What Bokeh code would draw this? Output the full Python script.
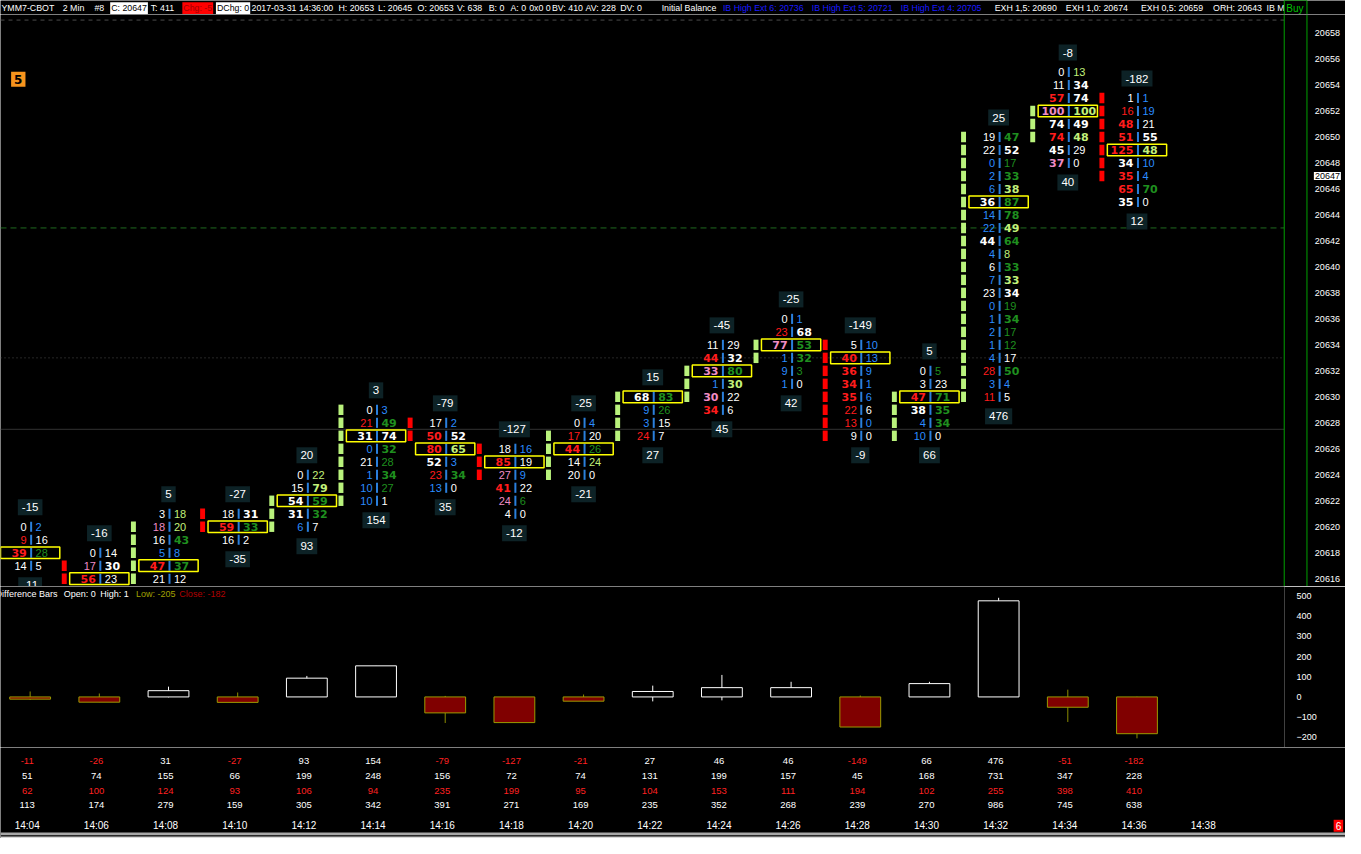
import numpy as np
from bokeh.plotting import figure
from bokeh.models import ColumnDataSource, Range1d, FixedTicker, Span
from bokeh.layouts import column
from bokeh.embed import file_html
from bokeh.resources import INLINE
from bokeh.core.properties import value

# ---------------- data ----------------
times = ["14:04", "14:06", "14:08", "14:10", "14:12", "14:14", "14:16", "14:18", "14:20",
         "14:22", "14:24", "14:26", "14:28", "14:30", "14:32", "14:34", "14:36", "14:38"]

# highest price row of each footprint bar
fp_top = [20620, 20618, 20621, 20621, 20624, 20629, 20628, 20626, 20628,
          20630, 20634, 20636, 20634, 20632, 20650, 20655, 20653]

# bid volume per row, top row first
fp_bid = [
    [0, 9, 39, 14],
    [0, 17, 56, 27],
    [3, 18, 16, 5, 47, 21, 14],
    [18, 59, 16],
    [0, 15, 54, 31, 6],
    [0, 21, 31, 0, 21, 1, 10, 10],
    [17, 50, 80, 52, 23, 13],
    [18, 85, 27, 41, 24, 4],
    [0, 17, 44, 14, 20],
    [68, 9, 3, 24],
    [11, 44, 33, 1, 30, 34],
    [0, 23, 77, 1, 9, 1],
    [5, 40, 36, 34, 35, 22, 13, 9],
    [0, 3, 47, 38, 4, 10],
    [19, 22, 0, 2, 6, 36, 14, 22, 44, 4, 6, 7, 23, 0, 1, 2, 1, 4, 28, 3, 11],
    [0, 11, 57, 100, 74, 74, 45, 37],
    [1, 16, 48, 51, 125, 34, 35, 65, 35],
]
# ask volume per row, top row first
fp_ask = [
    [2, 16, 28, 5],
    [14, 30, 23, 7],
    [18, 20, 43, 8, 37, 12, 17],
    [31, 33, 2],
    [22, 79, 59, 32, 7],
    [3, 49, 74, 32, 28, 34, 27, 1],
    [2, 52, 65, 3, 34, 0],
    [16, 19, 9, 22, 6, 0],
    [4, 20, 26, 24, 0],
    [83, 26, 15, 7],
    [29, 32, 80, 30, 22, 6],
    [1, 68, 53, 32, 3, 0],
    [10, 13, 9, 1, 6, 6, 0, 0],
    [5, 23, 71, 35, 34, 0],
    [47, 52, 17, 33, 38, 87, 78, 49, 64, 8, 33, 33, 34, 19, 34, 17, 12, 17, 50, 4, 5],
    [13, 34, 74, 100, 49, 48, 29, 0],
    [1, 19, 21, 55, 48, 10, 4, 70, 0],
]

bar_open = [20619, 20617, 20616, 20621, 20620, 20622, 20628, 20626, 20624,
            20627, 20630, 20633, 20634, 20627, 20630, 20650, 20653]
bar_close = [20617, 20616, 20620, 20620, 20622, 20629, 20627, 20624, 20627,
             20630, 20632, 20634, 20627, 20630, 20650, 20652, 20647]

label_above = [-15, -16, 5, -27, 20, 3, -79, -127, -25, 15, -45, -25, -149, 5, 25, -8, -182]
label_below = [-11, -26, 31, -35, 93, 154, 35, -12, -21, 27, 45, 42, -9, 66, 476, 40, 12]

diff_high = [27, 17, 51, 22, 104, 154, 5, 0, 12, 56, 109, 75, 7, 75, 491, 36, 1]
diff_low = [-15, -26, -2, -27, 0, 0, -129, -127, -21, -22, -17, 0, -149, 0, 0, -124, -205]

price_ticks = list(range(20616, 20660, 2))
last_price = 20647
delta_ticks = [-200, -100, 0, 100, 200, 300, 400, 500]
level_exh05 = 20659
level_orh = 20643
level_dotted = 20633
level_solid = 20627.5

ask_vol = [sum(a) for a in fp_ask]
bid_vol = [sum(b) for b in fp_bid]
delta = [a - b for a, b in zip(ask_vol, bid_vol)]
total_vol = [a + b for a, b in zip(ask_vol, bid_vol)]

# ---------------- layout constants ----------------
W = 1345
SX = W / 1361.0
PXB = 70 * SX
X0 = -30 / 70.0
PRICE_LO, PRICE_HI = 20615.40, 20659.43


def rx(ref_px):
    return X0 + ref_px / 70.0


def ref_price(ref_y):
    return 20616 + (589 - ref_y) / 13.24


WHITE = "#ffffff"
RED = "#ff1c1c"
PINK = "#f08cc4"
DKGREEN = "#1f8f1f"
LTGREEN = "#c2f07a"
BLUE = "#2b8cff"
BODY_GREEN = "#b9f27c"
BODY_RED = "#ff0000"
LABEL_BG = "#0d2226"
REG_FONT = value("Liberation Sans")
BOLD_FONT = value("DejaVu Sans")


def fpcolor(v, diag, side):
    if diag is None or diag == 0:
        return WHITE
    r = v / diag
    if r >= 1.5:
        return RED if side == "bid" else DKGREEN
    if r >= 1.0:
        return PINK if side == "bid" else LTGREEN
    if r < 0.4:
        return BLUE
    return WHITE


def base_fig(**kw):
    f = figure(toolbar_location=None, output_backend="svg",
               background_fill_color="black", border_fill_color="black",
               outline_line_color=None, min_border_left=0, min_border_top=0,
               min_border_bottom=0, **kw)
    f.grid.visible = False
    return f


# ---------------- header ----------------
hdr = base_fig(frame_width=W, frame_height=14, min_border_right=0,
               x_range=Range1d(0, 1361), y_range=Range1d(0, 1),
               x_axis_location=None, y_axis_location=None)
hdr_items = [
    (1, "YMM7-CBOT", WHITE, None), (63, "2 Min", WHITE, None), (95, "#8", WHITE, None),
    (111, "C: 20647", "black", "white"), (152, "T: 411", WHITE, None),
    (184, "Chg: -5", "#a00000", "#ff0000"), (218, "DChg: 0", "black", "white"),
    (254, "2017-03-31 14:36:00", WHITE, None), (342, "H: 20653", WHITE, None),
    (382, "L: 20645", WHITE, None), (422, "O: 20653", WHITE, None),
    (462, "V: 638", WHITE, None), (494, "B: 0", WHITE, None), (516, "A: 0", WHITE, None),
    (535, "0x0 0", WHITE, None), (558, "BV: 410", WHITE, None), (592, "AV: 228", WHITE, None),
    (627, "DV: 0", WHITE, None), (669, "Initial Balance", WHITE, None),
    (731, "IB High Ext 6: 20736", "#1a1aff", None), (821, "IB High Ext 5: 20721", "#1a1aff", None),
    (911, "IB High Ext 4: 20705", "#1a1aff", None), (1006, "EXH 1,5: 20690", WHITE, None),
    (1078, "EXH 1,0: 20674", WHITE, None), (1154, "EXH 0,5: 20659", WHITE, None),
    (1227, "ORH: 20643", WHITE, None), (1281, "IB M", WHITE, None),
]
for xx, tt, cc, bg in hdr_items:
    kw = {}
    if bg:
        kw = dict(background_fill_color=bg, padding=1)
    hdr.text(x=[xx], y=[0.45], text=[tt], text_color=cc, text_font=REG_FONT,
             text_font_size="8.8px", text_baseline="middle", text_align="left", **kw)
hdr.quad(left=[1299], right=[1322], top=[1], bottom=[0], fill_color="black", line_color="#00b000")
hdr.text(x=[1301], y=[0.4], text=["Buy"], text_color="#00c000", text_font=REG_FONT,
         text_font_size="10px", text_baseline="middle")

# ---------------- main footprint panel ----------------
main = base_fig(frame_width=W, frame_height=572, min_border_right=0,
                x_range=Range1d(X0, X0 + W / PXB),
                y_range=Range1d(PRICE_LO, PRICE_HI),
                x_axis_location=None, y_axis_location=None)

# price scale labels, placed on the price scale
main.text(x=[rx(1330)] * len(price_ticks), y=price_ticks, text=[str(t) for t in price_ticks],
          text_color=WHITE, text_font=REG_FONT, text_font_size="9px", text_baseline="middle",
          text_align="left")
main.text(x=[rx(1329)], y=[last_price], text=[str(last_price)], text_color="black",
          text_font=REG_FONT, text_font_size="9px", text_baseline="middle", text_align="left",
          background_fill_color="white", padding=1)

# reference levels
x_line_end = rx(1299)
for lvl, col, dash in [(level_exh05, "#4a4a4a", "4 4"), (level_orh, "#1f6a1f", "6 4"),
                       (level_dotted, "#4a4a4a", "1 3"), (level_solid, "#333333", "solid")]:
    main.segment(x0=[X0], y0=[lvl], x1=[x_line_end], y1=[lvl], line_color=col,
                 line_width=1, line_dash=dash)

main.add_layout(Span(location=rx(1299), dimension="height", line_color="#00a000", line_width=1))
main.add_layout(Span(location=rx(1322), dimension="height", line_color="#00a000", line_width=1))

n = len(fp_top)
BID_OFF = 3.5 / 70
ASK_OFF = 5.5 / 70

body = dict(x=[], y=[], color=[])
sep = dict(x=[], y=[])
poc = dict(x=[], y=[])
bid_reg = dict(x=[], y=[], text=[], color=[])
bid_bold = dict(x=[], y=[], text=[], color=[])
ask_reg = dict(x=[], y=[], text=[], color=[])
ask_bold = dict(x=[], y=[], text=[], color=[])
lab = dict(x=[], y=[], text=[])

for i in range(n):
    o, c = bar_open[i], bar_close[i]
    col = BODY_GREEN if c >= o else BODY_RED
    for p in range(min(o, c), max(o, c) + 1):
        body["x"].append(i - 35.5 / 70)
        body["y"].append(p)
        body["color"].append(col)
    bids, asks = fp_bid[i], fp_ask[i]
    tot = [b + a for b, a in zip(bids, asks)]
    kpoc = int(np.argmax(tot))
    poc["x"].append(i)
    poc["y"].append(fp_top[i] - kpoc)
    for k in range(len(bids)):
        p = fp_top[i] - k
        if p < PRICE_LO + 0.3:      # row lies below the visible price scale
            continue
        b, a = bids[k], asks[k]
        db = asks[k - 1] if k > 0 else None
        da = bids[k + 1] if k + 1 < len(bids) else None
        t = bid_bold if b >= 30 else bid_reg
        t["x"].append(i - BID_OFF); t["y"].append(p); t["text"].append(str(b))
        t["color"].append(fpcolor(b, db, "bid"))
        t = ask_bold if a >= 30 else ask_reg
        t["x"].append(i + ASK_OFF); t["y"].append(p); t["text"].append(str(a))
        t["color"].append(fpcolor(a, da, "ask"))
        sep["x"].append(i + 1 / 70); sep["y"].append(p)
    ya_ = fp_top[i] + 1.5
    yb_ = fp_top[i] - len(bids) + 1 - 1.5
    for yy, tt in [(ya_, label_above[i]), (yb_, label_below[i])]:
        if yy > PRICE_LO - 0.6:
            lab["x"].append(i); lab["y"].append(yy); lab["text"].append(str(tt))

main.rect(x="x", y="y", width=5 / 70, height=0.8, fill_color="color", line_color=None,
          source=ColumnDataSource(body))
main.rect(x="x", y="y", width=2, width_units="screen", height=0.78, fill_color="#2a7fdc",
          line_color=None, source=ColumnDataSource(sep))
main.rect(x="x", y="y", width=60 / 70, height=0.9, fill_color=None, line_color="#ffff00",
          line_width=1.5, source=ColumnDataSource(poc))
main.text(x="x", y="y", text="text", text_color="color", text_align="right", text_baseline="middle",
          text_font=REG_FONT, text_font_size="11px", source=ColumnDataSource(bid_reg))
main.text(x="x", y="y", text="text", text_color="color", text_align="right", text_baseline="middle",
          text_font=BOLD_FONT, text_font_style="bold", text_font_size="11px",
          source=ColumnDataSource(bid_bold))
main.text(x="x", y="y", text="text", text_color="color", text_align="left", text_baseline="middle",
          text_font=REG_FONT, text_font_size="11px", source=ColumnDataSource(ask_reg))
main.text(x="x", y="y", text="text", text_color="color", text_align="left", text_baseline="middle",
          text_font=BOLD_FONT, text_font_style="bold", text_font_size="11px",
          source=ColumnDataSource(ask_bold))
main.text(x="x", y="y", text="text", text_color=WHITE, text_align="center", text_baseline="middle",
          text_font=REG_FONT, text_font_size="11.5px", background_fill_color=LABEL_BG,
          padding=4, source=ColumnDataSource(lab))

main.text(x=[rx(18)], y=[ref_price(80)], text=["5"], text_align="center", text_baseline="middle",
          text_color="black", text_font=BOLD_FONT, text_font_size="12px", text_font_style="bold",
          background_fill_color="#f7941d", padding=3)

# ---------------- difference bars panel ----------------
FW_LOW = int(round(1299 * SX))
low = base_fig(frame_width=FW_LOW, frame_height=161, min_border_right=W - FW_LOW,
               x_range=Range1d(X0, X0 + FW_LOW / PXB), y_range=Range1d(-250.4, 546.9),
               x_axis_location=None, y_axis_location="right")
la = low.yaxis[0]
la.ticker = FixedTicker(ticks=delta_ticks)
la.axis_line_color = None
la.major_tick_line_color = None
la.minor_tick_line_color = None
la.major_label_text_color = WHITE
la.major_label_text_font = "Liberation Sans"
la.major_label_text_font_size = "9px"
la.major_label_standoff = 6

idx = list(range(n))
up = [d >= 0 for d in delta]
wick_col = [WHITE if u else "#8c8c00" for u in up]
low.segment(x0=idx, y0=diff_low, x1=idx, y1=diff_high, line_color=wick_col, line_width=1)
low.vbar(x=idx, width=0.59, top=[max(0, d) for d in delta], bottom=[min(0, d) for d in delta],
         fill_color=["black" if u else "#800000" for u in up],
         line_color=[WHITE if u else "#9a9a00" for u in up], line_width=1)

vy = (710.5 - 606) / 0.2057
for xx, tt, cc in [(-5, "Difference Bars", WHITE), (64, "Open: 0", WHITE), (101, "High: 1", WHITE),
                   (137, "Low: -205", "#a0a000"), (181, "Close: -182", "#b00000")]:
    low.text(x=[rx(xx)], y=[vy], text=[tt], text_align="left", text_baseline="middle",
             text_color=cc, text_font_size="9px", text_font=REG_FONT)

# ---------------- bottom table + time labels ----------------
bot = base_fig(frame_width=W, frame_height=91, min_border_right=0,
               x_range=Range1d(X0, X0 + W / PXB), y_range=Range1d(5.267, -0.933),
               x_axis_location=None, y_axis_location=None)
tx = [i - 3 / 70 for i in idx]
rows = [
    ([str(d) for d in delta], ["#ff2020" if d < 0 else WHITE for d in delta]),
    ([str(v) for v in ask_vol], [WHITE] * n),
    ([str(v) for v in bid_vol], ["#ff2020"] * n),
    ([str(v) for v in total_vol], [WHITE] * n),
]
for r, (txt, cols) in enumerate(rows):
    bot.text(x=tx, y=[r] * n, text=txt, text_color=cols, text_align="center", text_baseline="middle",
             text_font=REG_FONT, text_font_size="9.5px")
tt_x = [i - 3 / 70 for i in range(len(times))]
bot.text(x=tt_x, y=[4.4] * len(times), text=times, text_color=WHITE, text_align="center",
         text_baseline="middle", text_font=REG_FONT, text_font_size="10px")
bot.quad(left=[X0], right=[X0 + W / PXB], top=[4.85], bottom=[5.05], fill_color="#a8a8a8",
         line_color=None)
bot.quad(left=[X0], right=[X0 + W / PXB], top=[5.13], bottom=[5.267], fill_color="#d8d8d8",
         line_color=None)
bot.text(x=[rx(1349)], y=[4.4], text=["6"], text_color=WHITE, text_align="left",
         text_baseline="middle", text_font=REG_FONT, text_font_size="10px",
         background_fill_color="#ff0000", padding=2)

layout = column(hdr, main, low, bot, spacing=0)
open("out.html", "w").write(file_html(layout, INLINE))
